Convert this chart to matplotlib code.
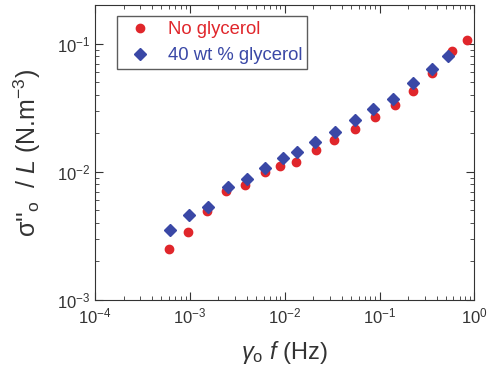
import matplotlib
matplotlib.use("Agg")
from matplotlib import pyplot as plt
from matplotlib.ticker import LogLocator, NullFormatter
import numpy as np

plt.rcParams['font.family'] = ['Liberation Sans', 'DejaVu Sans']
plt.rcParams['mathtext.fontset'] = 'custom'
plt.rcParams['mathtext.rm'] = 'Liberation Sans'
plt.rcParams['mathtext.it'] = 'Liberation Sans:italic'

# no glycerol
x_none = [5.94e-4, 9.5e-4, 1.5e-3, 2.38e-3, 3.77e-3, 6.17e-3, 8.9e-3, 1.31e-2, 2.12e-2,
          3.33e-2, 5.48e-2, 9.0e-2, 0.144, 0.227, 0.361, 0.585, 0.833]
y_none = [2.52e-3, 3.4e-3, 4.99e-3, 7.15e-3, 7.87e-3, 9.95e-3, 1.12e-2, 1.2e-2, 1.49e-2,
          1.76e-2, 2.16e-2, 2.67e-2, 3.32e-2, 4.3e-2, 5.9e-2, 8.7e-2, 0.106]

# 40 wt % glycerol
x_gly = [6.2e-4, 9.77e-4, 1.55e-3, 2.54e-3, 3.99e-3, 6.25e-3, 9.5e-3, 1.35e-2, 2.07e-2,
         3.36e-2, 5.48e-2, 8.6e-2, 0.137, 0.226, 0.356, 0.522]
y_gly = [3.5e-3, 4.61e-3, 5.36e-3, 7.58e-3, 8.77e-3, 1.07e-2, 1.28e-2, 1.42e-2, 1.71e-2,
         2.05e-2, 2.54e-2, 3.1e-2, 3.7e-2, 4.93e-2, 6.38e-2, 7.96e-2]

red = '#e0262b'
blue = '#3a48a6'
dark = '#333333'

fig = plt.figure(figsize=(4.88, 3.69), dpi=100)
ax = fig.add_axes([0.195, 0.187, 0.777, 0.799])

ax.plot(x_none, y_none, 'o', color=red, markersize=6, label='No glycerol')
ax.plot(x_gly, y_gly, 'D', color=blue, markersize=6.5, label='40 wt % glycerol')

ax.set_xscale('log')
ax.set_yscale('log')
ax.set_xlim(1e-4, 1.0)
ax.set_ylim(1e-3, 0.2)
ax.set_xticks([1e-4, 1e-3, 1e-2, 1e-1, 1e0])
ax.set_yticks([1e-3, 1e-2, 1e-1])
ax.xaxis.set_minor_locator(LogLocator(base=10, subs=np.arange(2, 10), numticks=20))
ax.yaxis.set_minor_locator(LogLocator(base=10, subs=np.arange(2, 10), numticks=20))
ax.xaxis.set_minor_formatter(NullFormatter())
ax.yaxis.set_minor_formatter(NullFormatter())
ax.tick_params(which='both', direction='in', top=True, right=True, labelsize=12,
               color=dark, labelcolor=dark)
ax.tick_params(which='major', length=6)
ax.tick_params(which='minor', length=3)
ax.tick_params(axis='x', pad=5)
for s in ax.spines.values():
    s.set_color(dark)

ax.set_xlabel(r'$\gamma_{\mathrm{o}}$ $f$ (Hz)', fontsize=17, color=dark, labelpad=9)
ax.set_ylabel(r"σ''$_{\mathrm{o}}$  / $L$ (N.m$^{-3}$)", fontsize=18, color=dark, labelpad=10)

leg = ax.legend(loc='upper left', fontsize=13.3, frameon=True, fancybox=False,
                edgecolor=dark, borderpad=0.25, labelspacing=0.5, handletextpad=0.5,
                borderaxespad=0, bbox_to_anchor=(0.058, 0.962))
leg.get_frame().set_linewidth(1.0)
for t, c in zip(leg.get_texts(), [red, blue]):
    t.set_color(c)

fig.savefig('out.png', dpi=100)
